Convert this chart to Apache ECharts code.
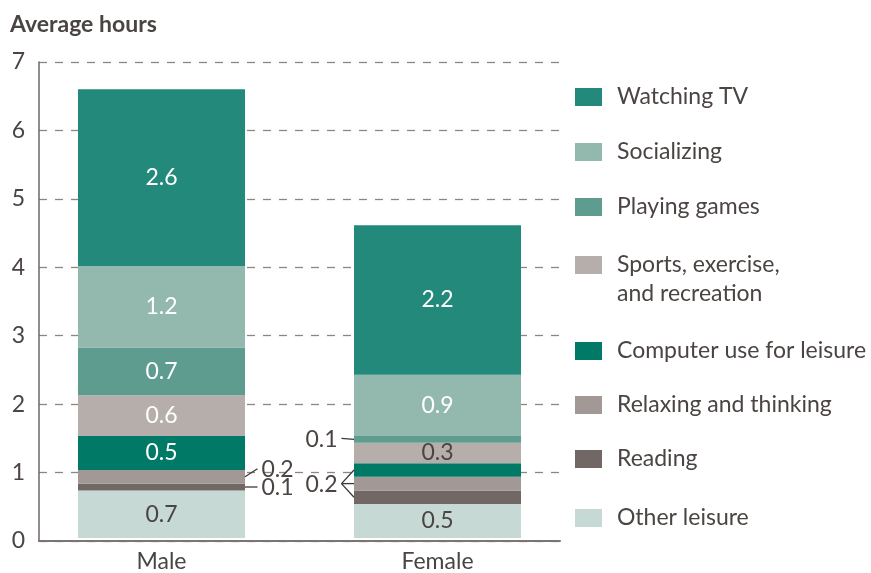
<!DOCTYPE html>
<html><head><meta charset="utf-8">
<script src="https://cdn.jsdelivr.net/npm/echarts@6/dist/echarts.min.js"></script>
<style>html,body{margin:0;padding:0;background:#fff}#c{width:871px;height:573px}</style>
</head><body><div id="c"></div>
<script>
// ---- data ----
const categories = ['Male', 'Female'];
const otherLeisure = [0.7, 0.5];
const reading = [0.1, 0.2];
const relaxing = [0.2, 0.2];
const computer = [0.5, 0.2];
const sports = [0.6, 0.3];
const games = [0.7, 0.1];
const socializing = [1.2, 0.9];
const watchingTV = [2.6, 2.2];
const yTickLabels = ['0', '1', '2', '3', '4', '5', '6', '7'];

// ---- configuration ----
const FONT = 'Lato, "Noto Sans", sans-serif';
const FS = 23;
const TXT = '#4a4442';
const BAR_W = 167;
const stackDefs = [ // bottom to top
  { name: 'Other leisure', data: otherLeisure, color: '#c6d9d5', label: [TXT, TXT] },
  { name: 'Reading', data: reading, color: '#716865', label: ['#fff', '#fff'] },
  { name: 'Relaxing and thinking', data: relaxing, color: '#a29896', label: ['#fff', '#fff'] },
  { name: 'Computer use for leisure', data: computer, color: '#007a66', label: ['#fff', '#fff'] },
  { name: 'Sports, exercise, and recreation', data: sports, color: '#b5aeab', label: ['#fff', TXT] },
  { name: 'Playing games', data: games, color: '#5d9c8e', label: ['#fff', '#fff'] },
  { name: 'Socializing', data: socializing, color: '#93b8ae', label: ['#fff', '#fff'] },
  { name: 'Watching TV', data: watchingTV, color: '#23897a', label: ['#fff', '#fff'] }
];
// labels drawn outside the bar with leader lines
const leaders = [
  { cat: 0, series: ['Relaxing and thinking'], side: 1, anchor: 0, dy: -8 },
  { cat: 0, series: ['Reading'], side: 1, anchor: 0, dy: 0 },
  { cat: 1, series: ['Playing games'], side: -1, anchor: 0, dy: -1 },
  { cat: 1, series: ['Computer use for leisure', 'Relaxing and thinking', 'Reading'], side: -1, anchor: 1, dy: 0 }
];
const outside = {};
leaders.forEach(l => l.series.forEach(n => { outside[n + '|' + l.cat] = true; }));

function segMid(name, cat) {
  let base = 0;
  for (const s of stackDefs) {
    if (s.name === name) return base + s.data[cat] / 2;
    base += s.data[cat];
  }
  return 0;
}
function fmt(v) { return v.toFixed(1); }

const yMin = +yTickLabels[0], yMax = +yTickLabels[yTickLabels.length - 1];

const legendOrder = stackDefs.slice().reverse();
const legendCenters = [97, 152, 207, 265, 351, 405, 459, 518];

const chart = echarts.init(document.getElementById('c'));
const option = {
  animation: false,
  title: { text: 'Average hours', left: 10, top: 13, padding: 0,
    textStyle: { fontSize: FS, fontWeight: 'bold', color: TXT, fontFamily: FONT } },
  grid: [
    { left: 39, right: 311, top: 62, bottom: 32 },
    { left: 161.5 - 138, width: 552, top: 62, bottom: 32 }
  ],
  xAxis: [
    { gridIndex: 0, type: 'value', min: 0, max: 1, axisLabel: { show: false }, axisTick: { show: false },
      splitLine: { show: false }, axisLine: { show: true, lineStyle: { color: '#7a7472', width: 2 } } },
    { gridIndex: 1, type: 'category', data: categories, axisLine: { show: false }, axisTick: { show: false },
      axisLabel: { margin: 12, fontSize: FS, color: TXT, fontFamily: FONT } }
  ],
  yAxis: [
    { gridIndex: 0, type: 'value', min: yMin, max: yMax, interval: 1,
      axisLine: { show: true, lineStyle: { color: '#6d6765', width: 1.5 } }, axisTick: { show: false },
      axisLabel: { margin: 14, fontSize: FS, color: TXT, fontFamily: FONT, formatter: v => yTickLabels[v - yMin] },
      splitLine: { show: true, lineStyle: { color: '#8c8583', width: 1.3, type: [8, 8] } } },
    { gridIndex: 1, type: 'value', min: yMin, max: yMax, show: false, splitLine: { show: false } }
  ],
  legend: legendOrder.map((s, i) => {
    const two = s.name.indexOf('Sports') === 0;
    const lh = two ? 29 : 24;
    return {
      data: [s.name], orient: 'vertical', left: 575,
      top: legendCenters[i] - (two ? lh * 1.5 : lh / 2),
      padding: 0, itemGap: 0, itemWidth: 27, itemHeight: 18, icon: 'rect', selectedMode: false,
      formatter: n => two ? '\nSports, exercise,\nand recreation' : n,
      textStyle: { fontSize: FS, lineHeight: lh, color: TXT, fontFamily: FONT, padding: [0, 0, 0, 10] }
    };
  }),
  series: stackDefs.map(s => ({
    name: s.name, type: 'bar', stack: 'total', xAxisIndex: 1, yAxisIndex: 1, barWidth: BAR_W,
    itemStyle: { color: s.color },
    data: s.data.map((v, ci) => ({
      value: v,
      label: { show: !outside[s.name + '|' + ci], color: s.label[ci] }
    })),
    label: { position: 'inside', fontSize: FS, fontFamily: FONT, formatter: p => fmt(p.value) }
  })).concat([{
    type: 'custom', xAxisIndex: 1, yAxisIndex: 1, coordinateSystem: 'cartesian2d', silent: true, z: 5,
    data: leaders.map((l, i) => [l.cat, i]),
    renderItem: function (params, api) {
      const l = leaders[params.dataIndex];
      const mids = l.series.map(n => segMid(n, l.cat));
      const cx = api.coord([l.cat, 0])[0];
      const edgeX = cx + l.side * BAR_W / 2;
      const elbowX = edgeX + l.side * 12.5;
      const labelY = api.coord([l.cat, mids[l.anchor]])[1] + l.dy;
      const value = stackDefs.find(s => s.name === l.series[l.anchor]).data[l.cat];
      const children = mids.map(m => ({
        type: 'line',
        shape: { x1: edgeX, y1: api.coord([l.cat, m])[1], x2: elbowX, y2: labelY },
        style: { stroke: '#3d3836', lineWidth: 1.3 }
      }));
      children.push({
        type: 'text',
        style: { text: fmt(value), x: elbowX + l.side * 4, y: labelY + 1, align: l.side > 0 ? 'left' : 'right',
          verticalAlign: 'middle', fontSize: FS, fill: TXT, fontFamily: FONT }
      });
      return { type: 'group', children: children };
    }
  }])
};
chart.setOption(option);
</script>
</body></html>
